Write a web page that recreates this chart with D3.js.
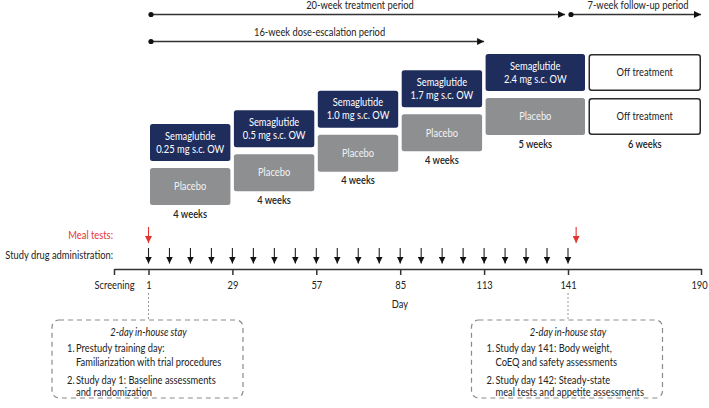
<!DOCTYPE html>
<html>
<head>
<meta charset="utf-8">
<script src="https://cdn.jsdelivr.net/npm/d3@7"></script>
<style>
  html, body { margin: 0; padding: 0; background: #fff; }
  svg { display: block; font-family: Lato, "Open Sans", sans-serif; }
</style>
</head>
<body>
<svg id="chart" width="709" height="408"></svg>
<script>
// ---------------- DATA ----------------
const periodLabels = ["20-week treatment period", "7-week follow-up period", "16-week dose-escalation period"];
const periodStart  = [1, 141, 1];
const periodEnd    = [141, 190, 113];
const periodRow    = [0, 0, 1];

const doseLabels   = ["0.25 mg s.c. OW", "0.5 mg s.c. OW", "1.0 mg s.c. OW", "1.7 mg s.c. OW", "2.4 mg s.c. OW"];
const doseValues   = [0.25, 0.5, 1.0, 1.7, 2.4];
const stageStart   = [1, 29, 57, 85, 113, 148];
const stageWeeks   = [4, 4, 4, 4, 5, 6];
const stageLabels  = ["4 weeks", "4 weeks", "4 weeks", "4 weeks", "5 weeks", "6 weeks"];

const tickDays     = [-10, 1, 29, 57, 85, 113, 141, 190];
const tickLabels   = ["Screening", "1", "29", "57", "85", "113", "141", "190"];
const dosingDays   = [1, 8, 15, 22, 29, 36, 43, 50, 57, 64, 71, 78, 85, 92, 99, 106, 113, 120, 127, 134, 141];
const mealTestDays = [1, 144];
const stayDays     = [1, 141];
const stayTitles   = ["2-day in-house stay", "2-day in-house stay"];
const stayItems    = [
  [["Prestudy training day:", "Familiarization with trial procedures"], ["Study day 1: Baseline assessments", "and randomization"]],
  [["Study day 141: Body weight,", "CoEQ and safety assessments"], ["Study day 142: Steady-state", "meal tests and appetite assessments"]]
];

// ---------------- LAYOUT ----------------
const svg = d3.select("#chart");
const NAVY = "#1f2d5d", GREY = "#8e8f91", RED = "#e5332f", DARK = "#222";
const FS = 10.6;      // font size
const SQUEEZE = 0.88; // horizontal condensing to mimic a narrow humanist font

const x = d3.scaleLinear().domain([-10, 1, 141, 190]).range([114, 148.5, 568, 701]);
const yDose = d3.scaleSqrt().domain([0.25, 2.4]).range([124, 54]);
const rowY = d3.scaleOrdinal().domain([0, 1]).range([14.5, 41.5]);
const boxH = 37, placeboOff = 44, weekOff = 90;

const defs = svg.append("defs");
function marker(id, color, w, h) {
  defs.append("marker").attr("id", id).attr("viewBox", "0 0 10 10")
    .attr("refX", 10).attr("refY", 5).attr("markerWidth", w).attr("markerHeight", h)
    .attr("markerUnits", "userSpaceOnUse").attr("orient", "auto")
    .append("path").attr("d", "M0,0L10,5L0,10Z").attr("fill", color);
}
marker("headBlack", "#111", 7, 7);
marker("headRed", RED, 7, 7);
marker("headPeriod", "#111", 7, 7);

// ---------------- PERIOD ARROWS ----------------
const periods = periodLabels.map((l, i) => ({ label: l, s: periodStart[i], e: periodEnd[i], row: periodRow[i], i }));
const pg = svg.append("g");
periods.forEach(p => {
  const x0 = x(p.s) + (p.i === 1 ? 3 : 2.5);
  const x1 = x(p.e) - (p.i === 0 ? 3 : 0);
  const y = rowY(p.row);
  pg.append("line").attr("x1", x0).attr("x2", x1).attr("y1", y).attr("y2", y)
    .attr("stroke", "#333").attr("stroke-width", 1.4).attr("marker-end", "url(#headPeriod)");
  pg.append("circle").attr("cx", x0).attr("cy", y).attr("r", 2.6).attr("fill", "#111");
  pg.append("text").attr("class", "ctr").attr("x", (x0 + x1) / 2 + 2).attr("y", y - 9.5).attr("dy", "0.35em")
    .attr("text-anchor", "middle").attr("font-size", FS).attr("fill", DARK).text(p.label);
});

// ---------------- DOSE BOXES ----------------
const stages = stageStart.map((s, i) => ({
  s, e: s + stageWeeks[i] * 7, i,
  dose: i < doseValues.length ? doseValues[i] : doseValues[doseValues.length - 1],
  label: i < doseLabels.length ? doseLabels[i] : null,
  weeks: stageLabels[i]
}));
const bg = svg.append("g");
stages.forEach(st => {
  const x0 = x(st.s) + 1.5;
  const x1 = st.i === stages.length - 1 ? x(st.e) : x(st.e) - 2;
  const w = x1 - x0, cx = (x0 + x1) / 2;
  const top = yDose(st.dose);
  const off = st.label === null;
  bg.append("rect").attr("x", off ? x0 + 0.75 : x0).attr("y", off ? top + 0.75 : top)
    .attr("width", off ? w - 1.5 : w).attr("height", off ? boxH - 1.5 : boxH).attr("rx", 2.5)
    .attr("fill", off ? "#fff" : NAVY).attr("stroke", off ? "#2b2b2b" : "none").attr("stroke-width", 1.5);
  if (off) {
    bg.append("text").attr("x", cx).attr("y", top + boxH / 2).attr("dy", "0.35em")
      .attr("text-anchor", "middle").attr("font-size", FS).attr("fill", DARK).text("Off treatment");
  } else {
    bg.append("text").attr("x", cx).attr("y", top + 12).attr("dy", "0.35em")
      .attr("text-anchor", "middle").attr("font-size", FS).attr("fill", "#fff").text("Semaglutide");
    bg.append("text").attr("x", cx).attr("y", top + 25).attr("dy", "0.35em")
      .attr("text-anchor", "middle").attr("font-size", FS).attr("fill", "#fff").text(st.label);
  }
  const pt = top + placeboOff;
  bg.append("rect").attr("x", off ? x0 + 0.75 : x0).attr("y", off ? pt + 0.75 : pt)
    .attr("width", off ? w - 1.5 : w).attr("height", off ? boxH - 1.5 : boxH).attr("rx", 2.5)
    .attr("fill", off ? "#fff" : GREY).attr("stroke", off ? "#2b2b2b" : "none").attr("stroke-width", 1.5);
  bg.append("text").attr("x", cx).attr("y", pt + boxH / 2).attr("dy", "0.35em")
    .attr("text-anchor", "middle").attr("font-size", FS).attr("fill", off ? DARK : "#f2f2f2")
    .text(off ? "Off treatment" : "Placebo");
  bg.append("text").attr("x", cx).attr("y", top + weekOff).attr("dy", "0.35em")
    .attr("text-anchor", "middle").attr("font-size", FS).attr("font-weight", 600).attr("fill", DARK)
    .text(st.weeks);
});

// ---------------- LEFT LABELS ----------------
svg.append("text").attr("x", 113).attr("y", 235).attr("dy", "0.35em").attr("text-anchor", "end")
  .attr("font-size", FS).attr("fill", RED).text("Meal tests:");
svg.append("text").attr("x", 113).attr("y", 255).attr("dy", "0.35em").attr("text-anchor", "end")
  .attr("font-size", FS).attr("fill", DARK).text("Study drug administration:");

// ---------------- ARROWS ----------------
svg.append("g").selectAll("line").data(mealTestDays).join("line")
  .attr("x1", d => x(d)).attr("x2", d => x(d)).attr("y1", 227).attr("y2", 243)
  .attr("stroke", RED).attr("stroke-width", 1.1).attr("marker-end", "url(#headRed)");
svg.append("g").selectAll("line").data(dosingDays).join("line")
  .attr("x1", d => x(d)).attr("x2", d => x(d)).attr("y1", 248).attr("y2", 263.5)
  .attr("stroke", "#222").attr("stroke-width", 1.1).attr("marker-end", "url(#headBlack)");

// ---------------- AXIS ----------------
const axis = d3.axisBottom(x).tickValues(tickDays)
  .tickFormat((d, i) => tickLabels[i]).tickSize(6).tickSizeOuter(0).tickPadding(6);
const ag = svg.append("g").attr("transform", "translate(0,269)").call(axis);
ag.select(".domain").attr("stroke", "#333").attr("stroke-width", 1.5);
ag.selectAll(".tick line").attr("stroke", "#333").attr("stroke-width", 1.5);
ag.selectAll(".tick text").attr("font-family", "Lato, 'Open Sans', sans-serif")
  .attr("font-size", FS).attr("fill", DARK);
ag.selectAll(".tick text").filter(d => d === 190).attr("dx", "-2");
svg.append("text").attr("x", 400).attr("y", 304).attr("dy", "0.35em").attr("text-anchor", "middle")
  .attr("font-size", FS).attr("fill", DARK).text("Day");

// ---------------- IN-HOUSE STAY BOXES ----------------
const sg = svg.append("g");
stayDays.forEach((d, k) => {
  const cx = x(d);
  sg.append("line").attr("x1", cx).attr("x2", cx).attr("y1", 293).attr("y2", 320)
    .attr("stroke", "#999").attr("stroke-width", 1).attr("stroke-dasharray", "2,2");
  const bx = cx - 96.5, bw = 191, by = 320, bh = 78;
  sg.append("rect").attr("x", bx).attr("y", by).attr("width", bw).attr("height", bh).attr("rx", 7)
    .attr("fill", "none").attr("stroke", "#8a8a8a").attr("stroke-width", 1.2).attr("stroke-dasharray", "5,4");
  sg.append("text").attr("x", cx).attr("y", 332).attr("dy", "0.35em").attr("text-anchor", "middle")
    .attr("font-size", FS).attr("font-style", "italic").attr("fill", DARK).text(stayTitles[k]);
  const lineYs = [[348, 362], [380, 392]];
  stayItems[k].forEach((item, j) => {
    sg.append("text").attr("x", bx + 15).attr("y", lineYs[j][0]).attr("dy", "0.35em")
      .attr("font-size", FS).attr("fill", DARK).text((j + 1) + ".");
    item.forEach((ln, m) => {
      sg.append("text").attr("x", bx + 24).attr("y", lineYs[j][m]).attr("dy", "0.35em")
        .attr("font-size", FS).attr("fill", DARK).text(ln);
    });
  });
});

// condense all texts horizontally
svg.selectAll("text").each(function () {
  const len = this.getComputedTextLength();
  if (len > 0) d3.select(this).attr("textLength", len * SQUEEZE).attr("lengthAdjust", "spacingAndGlyphs");
});
</script>
</body>
</html>
